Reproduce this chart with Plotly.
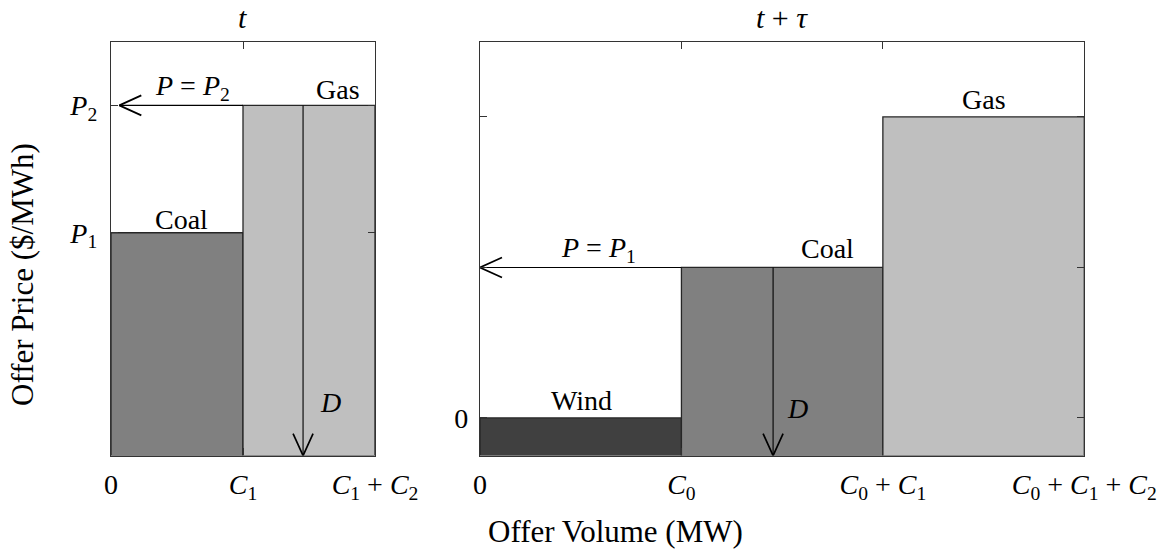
import numpy as np
import plotly.graph_objects as go

W, H = 1175, 550

# ---------------- data ----------------
# Left panel: time t
left_names = ["Coal", "Gas"]
left_capacity = [1.0, 1.0]                 # C1, C2
left_price = [7.0, 11.0]                   # P1, P2
left_x_tickvals = [0.0, 1.0, 2.0]
left_x_ticktext = ["0", "<i>C</i><sub>1</sub>",
                   "<i>C</i><sub>1</sub> + <i>C</i><sub>2</sub>"]
left_y_tickvals = [7.0, 11.0]
left_y_ticktext = ["<i>P</i><sub>1</sub>", "<i>P</i><sub>2</sub>"]
left_y_range = [0.0, 13.0]
left_demand = 1.455
left_arrow_tip = 0.063
left_title = "<i>t</i>"
left_price_label = "<i>P</i> = <i>P</i><sub>2</sub>"

# Right panel: time t + tau
right_names = ["Wind", "Coal", "Gas"]
right_capacity = [1.0, 1.0, 1.0]           # C0, C1, C2
right_price = [0.0, 4.0, 8.0]              # 0, P1, P2
right_x_tickvals = [0.0, 1.0, 2.0, 3.0]
right_x_ticktext = ["0", "<i>C</i><sub>0</sub>",
                    "<i>C</i><sub>0</sub> + <i>C</i><sub>1</sub>",
                    "<i>C</i><sub>0</sub> + <i>C</i><sub>1</sub> + <i>C</i><sub>2</sub>"]
right_y_tickvals = [0.0, 4.0, 8.0]
right_y_ticktext = ["0", "", ""]
right_y_range = [-1.0, 10.0]
right_demand = 1.455
right_arrow_tip = 0.0
right_title = "<i>t</i> + <i>τ</i>"
right_price_label = "<i>P</i> = <i>P</i><sub>1</sub>"

x_title = "Offer Volume (MW)"
y_title = "Offer Price ($/MWh)"

# ---------------- style ----------------
FONT = "Liberation Serif"
COLORS = {"Wind": "#404040", "Coal": "#808080", "Gas": "#bfbfbf"}
EDGE = "#262626"
AX = "#333333"
HEAD_LEN, HEAD_HALF = 22, 10           # arrow head size in px
L_XPX = (111.0, 375.0)
R_XPX = (480.0, 1084.3)
Y_PX = (41.7, 455.6)


def px(x):
    return x / W


def py(y):
    return 1 - y / H


fig = go.Figure()
annotations = []


def panel(k, xpx, names, caps, prices, yr, demand, tip, plabel,
          name_shift, plabel_shift, dlabel_shift):
    xa = "x" if k == 1 else "x2"
    ya = "y" if k == 1 else "y2"
    caps = np.asarray(caps, dtype=float)
    prices = np.asarray(prices, dtype=float)
    right_edges = np.cumsum(caps)
    left_edges = right_edges - caps
    ymin = yr[0]

    fig.add_trace(go.Bar(
        x=left_edges, y=prices - ymin, base=[ymin] * len(caps), width=caps,
        offset=0, marker=dict(color=[COLORS[n] for n in names],
                              line=dict(color=EDGE, width=1.3)),
        xaxis=xa, yaxis=ya, showlegend=False, hoverinfo="skip"))

    sx = (xpx[1] - xpx[0]) / right_edges[-1]
    sy = (Y_PX[1] - Y_PX[0]) / (yr[1] - yr[0])

    i = int(np.searchsorted(right_edges, demand))
    pm = prices[i]
    xm = left_edges[i]

    line_thin = dict(color="black", width=1.1)
    line_head = dict(color="black", width=1.7)
    # price arrow
    fig.add_trace(go.Scatter(x=[xm, tip], y=[pm, pm], mode="lines", line=line_thin,
                             xaxis=xa, yaxis=ya, showlegend=False, hoverinfo="skip"))
    fig.add_trace(go.Scatter(x=[tip + HEAD_LEN / sx, tip, tip + HEAD_LEN / sx],
                             y=[pm + HEAD_HALF / sy, pm, pm - HEAD_HALF / sy],
                             mode="lines", line=line_head,
                             xaxis=xa, yaxis=ya, showlegend=False, hoverinfo="skip"))
    # demand arrow
    fig.add_trace(go.Scatter(x=[demand, demand], y=[pm, ymin], mode="lines", line=line_thin,
                             xaxis=xa, yaxis=ya, showlegend=False, hoverinfo="skip"))
    fig.add_trace(go.Scatter(x=[demand - HEAD_HALF / sx, demand, demand + HEAD_HALF / sx],
                             y=[ymin + HEAD_LEN / sy, ymin, ymin + HEAD_LEN / sy],
                             mode="lines", line=line_head,
                             xaxis=xa, yaxis=ya, showlegend=False, hoverinfo="skip"))

    # bar labels
    for n, x0, w, p, (dx, dy) in zip(names, left_edges, caps, prices, name_shift):
        annotations.append(dict(text=n, x=x0 + w / 2, y=p, xref=xa, yref=ya,
                                xanchor="center", yanchor="bottom", showarrow=False,
                                xshift=dx, yshift=dy,
                                font=dict(family=FONT, size=28, color="black")))
    # price label
    annotations.append(dict(text=plabel, x=(xm + tip) / 2, y=pm, xref=xa, yref=ya,
                            xanchor="center", yanchor="bottom", showarrow=False,
                            xshift=plabel_shift[0], yshift=plabel_shift[1],
                            font=dict(family=FONT, size=28, color="black")))
    # demand label
    annotations.append(dict(text="<i>D</i>", x=demand, y=ymin, xref=xa, yref=ya,
                            xanchor="center", yanchor="bottom", showarrow=False,
                            xshift=dlabel_shift[0], yshift=dlabel_shift[1],
                            font=dict(family=FONT, size=28, color="black")))


panel(1, L_XPX, left_names, left_capacity, left_price, left_y_range, left_demand,
      left_arrow_tip, left_price_label,
      name_shift=[(4, -4), (29, -2)], plabel_shift=(11, -2), dlabel_shift=(27, 36))
panel(2, R_XPX, right_names, right_capacity, right_price, right_y_range, right_demand,
      right_arrow_tip, right_price_label,
      name_shift=[(1, 0), (45, 1), (0, 0)], plabel_shift=(18, -2), dlabel_shift=(24, 30))

# titles and axis labels
annotations += [
    dict(text=left_title, x=px(sum(L_XPX) / 2), y=py(18), xref="paper", yref="paper",
         xanchor="center", yanchor="middle", showarrow=False,
         font=dict(family=FONT, size=30, color="black")),
    dict(text=right_title, x=px(sum(R_XPX) / 2), y=py(18), xref="paper", yref="paper",
         xanchor="center", yanchor="middle", showarrow=False,
         font=dict(family=FONT, size=30, color="black")),
    dict(text=x_title, x=px(615), y=py(531), xref="paper", yref="paper",
         xanchor="center", yanchor="middle", showarrow=False,
         font=dict(family=FONT, size=31, color="black")),
    dict(text=y_title, x=px(22), y=py(275), xref="paper", yref="paper",
         xanchor="center", yanchor="middle", showarrow=False, textangle=-90,
         font=dict(family=FONT, size=31, color="black")),
]

axis_common = dict(showline=True, linecolor=AX, linewidth=1.3, mirror="allticks",
                   ticks="inside", ticklen=7, tickwidth=1, tickcolor=AX,
                   showgrid=False, zeroline=False, fixedrange=True, automargin=False,
                   tickfont=dict(family=FONT, size=28, color="black"))
ydom = [py(Y_PX[1]), py(Y_PX[0])]

fig.update_layout(
    width=W, height=H, margin=dict(l=0, r=0, t=0, b=0, pad=0, autoexpand=False),
    paper_bgcolor="white", plot_bgcolor="white", barmode="overlay",
    showlegend=False,
    xaxis=dict(domain=[px(L_XPX[0]), px(L_XPX[1])], range=[0, sum(left_capacity)],
               tickmode="array", tickvals=left_x_tickvals, ticktext=left_x_ticktext,
               anchor="y", ticklabelstandoff=4, **axis_common),
    yaxis=dict(domain=ydom, range=left_y_range, tickmode="array",
               tickvals=left_y_tickvals, ticktext=left_y_ticktext, anchor="x",
               ticklabelstandoff=7, **axis_common),
    xaxis2=dict(domain=[px(R_XPX[0]), px(R_XPX[1])], range=[0, sum(right_capacity)],
                tickmode="array", tickvals=right_x_tickvals, ticktext=right_x_ticktext,
                anchor="y2", ticklabelstandoff=4, **axis_common),
    yaxis2=dict(domain=ydom, range=right_y_range, tickmode="array",
                tickvals=right_y_tickvals, ticktext=right_y_ticktext, anchor="x2",
                ticklabelstandoff=5, **axis_common),
    annotations=annotations,
)

fig.write_html("out.html")
